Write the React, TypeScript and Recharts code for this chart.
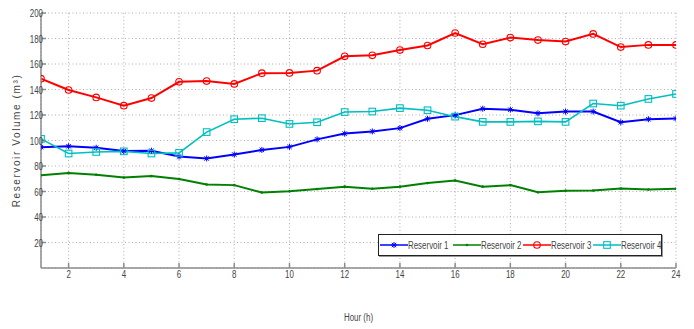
import React from 'react';
import { LineChart, Line, XAxis, YAxis, CartesianGrid, Legend, Label } from 'recharts';

const hours = [1, 2, 3, 4, 5, 6, 7, 8, 9, 10, 11, 12, 13, 14, 15, 16, 17, 18, 19, 20, 21, 22, 23, 24];
const reservoir1 = [94.8, 95.5, 94.3, 91.7, 92, 87.4, 85.9, 89, 92.6, 95, 100.9, 105.4, 107.1, 109.7, 117, 119.9, 124.9, 124.2, 121.3, 122.7, 122.7, 114.3, 116.7, 117.2];
const reservoir2 = [72.7, 74.6, 73.1, 71, 72.2, 69.8, 65.5, 65, 59.2, 60.2, 61.9, 63.8, 62.1, 63.8, 66.6, 68.6, 63.8, 65, 59.4, 60.6, 60.8, 62.3, 61.6, 62.1];
const reservoir3 = [148.5, 139.6, 133.8, 127.3, 133.3, 146, 146.6, 144.4, 152.8, 153, 154.8, 166, 166.8, 170.9, 174.5, 184.3, 175.5, 180.7, 178.8, 177.6, 183.6, 173.3, 175, 175];
const reservoir4 = [101.3, 89.8, 91, 91.5, 89.8, 90.3, 106.6, 116.7, 117.5, 113, 114.3, 122.3, 122.7, 125.4, 123.7, 118.7, 114.6, 114.6, 115, 114.6, 129, 127.3, 132.6, 136.5];
const seriesNames = ['Reservoir 1', 'Reservoir 2', 'Reservoir 3', 'Reservoir 4'];
const xTicks = [2, 4, 6, 8, 10, 12, 14, 16, 18, 20, 22, 24];
const yTicks = [20, 40, 60, 80, 100, 120, 140, 160, 180, 200];

const data = hours.map((h, i) => ({
  hour: h,
  r1: reservoir1[i],
  r2: reservoir2[i],
  r3: reservoir3[i],
  r4: reservoir4[i],
}));

const FONT = "'Liberation Sans', Arial, sans-serif";
const TXT = '#444';
const COLORS = ['#0000ff', '#008000', '#ff0000', '#00bfbf'];
const NARROW = 0.72;

type MarkerKind = 'star' | 'dot' | 'circle' | 'square';

function Marker({ kind, cx, cy, color }: { kind: MarkerKind; cx: number; cy: number; color: string }) {
  if (kind === 'star') {
    const r = 3;
    const d = 2.2;
    return (
      <g stroke={color} strokeWidth={1}>
        <line x1={cx - r} y1={cy} x2={cx + r} y2={cy} />
        <line x1={cx} y1={cy - r} x2={cx} y2={cy + r} />
        <line x1={cx - d} y1={cy - d} x2={cx + d} y2={cy + d} />
        <line x1={cx - d} y1={cy + d} x2={cx + d} y2={cy - d} />
      </g>
    );
  }
  if (kind === 'dot') {
    return <circle cx={cx} cy={cy} r={1.3} fill={color} />;
  }
  if (kind === 'circle') {
    return <circle cx={cx} cy={cy} r={3.3} fill="none" stroke={color} strokeWidth={1.1} />;
  }
  return <rect x={cx - 3.3} y={cy - 3.3} width={6.6} height={6.6} fill="none" stroke={color} strokeWidth={1.1} />;
}

const kinds: MarkerKind[] = ['star', 'dot', 'circle', 'square'];

const makeDot = (kind: MarkerKind, color: string) => (props: any) => {
  const { cx, cy, index } = props;
  if (cx == null || cy == null) return <g key={`d-${kind}-${index}`} />;
  return (
    <g key={`d-${kind}-${index}`}>
      <Marker kind={kind} cx={cx} cy={cy} color={color} />
    </g>
  );
};

const NarrowText = ({ x, y, anchor, children }: { x: number; y: number; anchor: 'start' | 'middle' | 'end'; children: React.ReactNode }) => (
  <text
    transform={`translate(${x}, ${y}) scale(${NARROW}, 1)`}
    textAnchor={anchor}
    dominantBaseline="central"
    fontFamily={FONT}
    fontSize={11}
    fill={TXT}
  >
    {children}
  </text>
);

const XTick = (props: any) => {
  const { x, y, payload } = props;
  return <NarrowText x={x} y={y + 9} anchor="middle">{payload.value}</NarrowText>;
};

const YTick = (props: any) => {
  const { x, y, payload } = props;
  return <NarrowText x={x - 1} y={y} anchor="end">{payload.value}</NarrowText>;
};

const itemWidths = [73, 70, 70, 64];

const LegendBox = () => (
  <div
    style={{
      width: 284,
      height: 22,
      boxSizing: 'border-box',
      border: '1px solid #222',
      boxShadow: '1px 1px 0 #999',
      background: '#fff',
      display: 'flex',
      alignItems: 'center',
      paddingLeft: 1,
      overflow: 'hidden',
      fontFamily: FONT,
      fontSize: 11,
      color: TXT,
    }}
  >
    {seriesNames.map((name, i) => (
      <div key={name} style={{ display: 'flex', alignItems: 'center', width: itemWidths[i], flex: 'none' }}>
        <svg width={28} height={12} style={{ flex: 'none' }}>
          <line x1={0} y1={6} x2={28} y2={6} stroke={COLORS[i]} strokeWidth={1.5} />
          <Marker kind={kinds[i]} cx={14} cy={6} color={COLORS[i]} />
        </svg>
        <span
          style={{
            display: 'inline-block',
            whiteSpace: 'nowrap',
            transform: `scaleX(${NARROW})`,
            transformOrigin: 'left center',
            width: 36,
          }}
        >
          {name}
        </span>
      </div>
    ))}
  </div>
);

const YLabel = (props: any) => {
  const vb = props.viewBox || {};
  const x = 8;
  const y = vb.y + vb.height / 2;
  return (
    <text
      x={x}
      y={y}
      transform={`rotate(-90, ${x}, ${y})`}
      textAnchor="middle"
      dominantBaseline="central"
      fontFamily={FONT}
      fontSize={10}
      fill={TXT}
      letterSpacing={1.6}
    >
      Reservoir Volume (m³)
    </text>
  );
};

const XLabel = (props: any) => {
  const vb = props.viewBox || {};
  return <NarrowText x={vb.x + vb.width / 2} y={309} anchor="middle">Hour (h)</NarrowText>;
};

export default function App() {
  return (
    <LineChart width={686} height={321} data={data} margin={{ top: 5, right: 18, bottom: 0, left: 8 }}>
      <CartesianGrid stroke="#9a9a9a" strokeDasharray="1 2.5" strokeWidth={0.8} />
      <XAxis
        dataKey="hour"
        type="number"
        domain={[1, 24]}
        ticks={xTicks}
        tick={<XTick />}
        tickSize={-5}
        height={39}
        stroke="#8c8c8c"
        strokeWidth={1.5}
        allowDataOverflow
      >
        <Label content={<XLabel />} />
      </XAxis>
      <XAxis
        xAxisId="top"
        dataKey="hour"
        type="number"
        orientation="top"
        domain={[1, 24]}
        ticks={xTicks}
        tickFormatter={() => ''}
        tickSize={-5}
        height={0}
        stroke="#444"
        strokeWidth={1}
      />
      <YAxis
        type="number"
        domain={[0, 200]}
        ticks={yTicks}
        tick={<YTick />}
        tickSize={-5}
        width={25}
        stroke="#8c8c8c"
        strokeWidth={1.5}
        interval={0}
      >
        <Label content={<YLabel />} />
      </YAxis>
      <YAxis
        yAxisId="right"
        orientation="right"
        type="number"
        domain={[0, 200]}
        ticks={yTicks}
        tickFormatter={() => ''}
        tickSize={-5}
        width={0}
        stroke="#8c8c8c"
        strokeWidth={1.5}
      />
      <Line dataKey="r1" name={seriesNames[0]} stroke={COLORS[0]} strokeWidth={2} dot={makeDot('star', COLORS[0])} isAnimationActive={false} />
      <Line dataKey="r2" name={seriesNames[1]} stroke={COLORS[1]} strokeWidth={2} dot={makeDot('dot', COLORS[1])} isAnimationActive={false} />
      <Line dataKey="r3" name={seriesNames[2]} stroke={COLORS[2]} strokeWidth={2} dot={makeDot('circle', COLORS[2])} isAnimationActive={false} />
      <Line dataKey="r4" name={seriesNames[3]} stroke={COLORS[3]} strokeWidth={1.6} dot={makeDot('square', COLORS[3])} isAnimationActive={false} />
      <Legend
        content={<LegendBox />}
        wrapperStyle={{ position: 'absolute', left: 370, top: 226, width: 284, height: 22 }}
      />
    </LineChart>
  );
}
